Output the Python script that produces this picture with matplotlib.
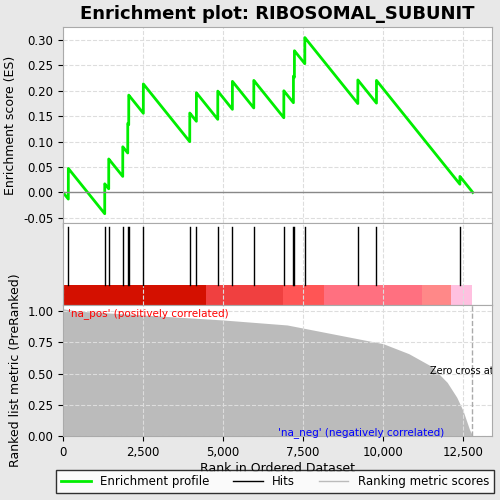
import numpy as np
import matplotlib
matplotlib.use("Agg")
import matplotlib.pyplot as plt
from matplotlib.lines import Line2D

N = 12800
hits = [166,1303,1428,1866,2022,2053,2509,3959,4166,4834,5291,5959,6897,7197,7228,7553,9209,9791,12397]
m_rank = [0,500,2500,5000,7000,8000,9000,10000,10800,11500,12000,12300,12500,12700,12800]
m_val = [1.02,1.0,0.97,0.93,0.89,0.84,0.79,0.74,0.66,0.56,0.43,0.31,0.20,0.05,0.0]
bar_edges = [0,4470,6870,8160,11220,12130,12780]
bar_cols = ['#d41000','#f04040','#ff5555','#ff7080','#ff8888','#ffc0e0']

ranks = np.arange(N)
metric = np.interp(ranks, m_rank, m_val)
ishit = np.zeros(N, bool); ishit[hits] = True
w = np.where(ishit, metric, 0.0)
step = np.where(ishit, w / w.sum(), -1.0 / (N - len(hits)))
es = np.concatenate([[0], np.cumsum(step)])
xs = np.arange(N + 1)

plt.rcParams['font.size'] = 8.5
fig = plt.figure(figsize=(5, 5), dpi=100, facecolor='#e8e8e8')
ax1 = fig.add_axes([0.126, 0.554, 0.858, 0.392])
ax2 = fig.add_axes([0.126, 0.39, 0.858, 0.164])
ax3 = fig.add_axes([0.126, 0.128, 0.858, 0.262])
xmax = 13400
for a in (ax1, ax2, ax3):
    a.set_xlim(0, xmax)
    for s in a.spines.values():
        s.set_color('#aaaaaa')

ax1.plot(xs, es, color='#00ee00', lw=2)
ax1.axhline(0, color='#888888', lw=1)
ax1.set_ylim(-0.06, 0.325)
ax1.set_yticks(np.arange(-0.05, 0.31, 0.05))
ax1.set_yticklabels(['-0.05','0.00','0.05','0.10','0.15','0.20','0.25','0.30'])
ax1.grid(True, ls='--', color='#dddddd')
ax1.set_xticks(range(0, 13000, 2500)); ax1.tick_params(axis='x', labelbottom=False)
ax1.set_ylabel('Enrichment score (ES)', fontsize=9)
ax1.set_title('Enrichment plot: RIBOSOMAL_SUBUNIT', fontsize=13, fontweight='bold')

ax2.set_ylim(0, 1)
for h in hits:
    ax2.axvline(h, ymin=0.25, ymax=0.95, color='black', lw=1)
for i, c in enumerate(bar_cols):
    ax2.axvspan(bar_edges[i], bar_edges[i+1], ymin=0, ymax=0.25, color=c, lw=0)
ax2.set_xticks(range(0, 13000, 2500)); ax2.grid(True, axis='x', ls='--', color='#dddddd')
ax2.set_yticks([]); ax2.tick_params(axis='x', labelbottom=False, length=0)

ax3.fill_between(ranks, 0, metric, color='#bbbbbb', lw=0)
ax3.set_ylim(0, 1.05)
ax3.set_yticks([0, 0.25, 0.5, 0.75, 1.0])
ax3.set_yticklabels(['0.00','0.25','0.50','0.75','1.00'])
ax3.set_xticks(range(0, 13000, 2500))
ax3.set_xticklabels(['0','2,500','5,000','7,500','10,000','12,500'])
ax3.grid(True, ls='--', color='#dddddd')
ax3.axvline(12780, color='#aaaaaa', ls='--', lw=1)
ax3.text(11450, 0.5, 'Zero cross at 12780', fontsize=7, clip_on=True)
ax3.text(150, 0.96, "'na_pos' (positively correlated)", color='red', fontsize=7.5)
ax3.text(6700, 0.01, "'na_neg' (negatively correlated)", color='blue', fontsize=7.5)
ax3.set_xlabel('Rank in Ordered Dataset', fontsize=9, labelpad=2)
ax3.set_ylabel('Ranked list metric (PreRanked)', fontsize=9)

handles = [Line2D([], [], color='#00ee00', lw=2), Line2D([], [], color='black', lw=1),
           Line2D([], [], color='#bbbbbb', lw=1)]
fig.legend(handles, ['Enrichment profile', 'Hits', 'Ranking metric scores'],
           loc='lower center', bbox_to_anchor=(0.55, 0.003), ncol=3, fontsize=8.5,
           frameon=True, edgecolor='black', fancybox=False, handlelength=2.5)
fig.savefig('out.png', dpi=100, facecolor=fig.get_facecolor())
